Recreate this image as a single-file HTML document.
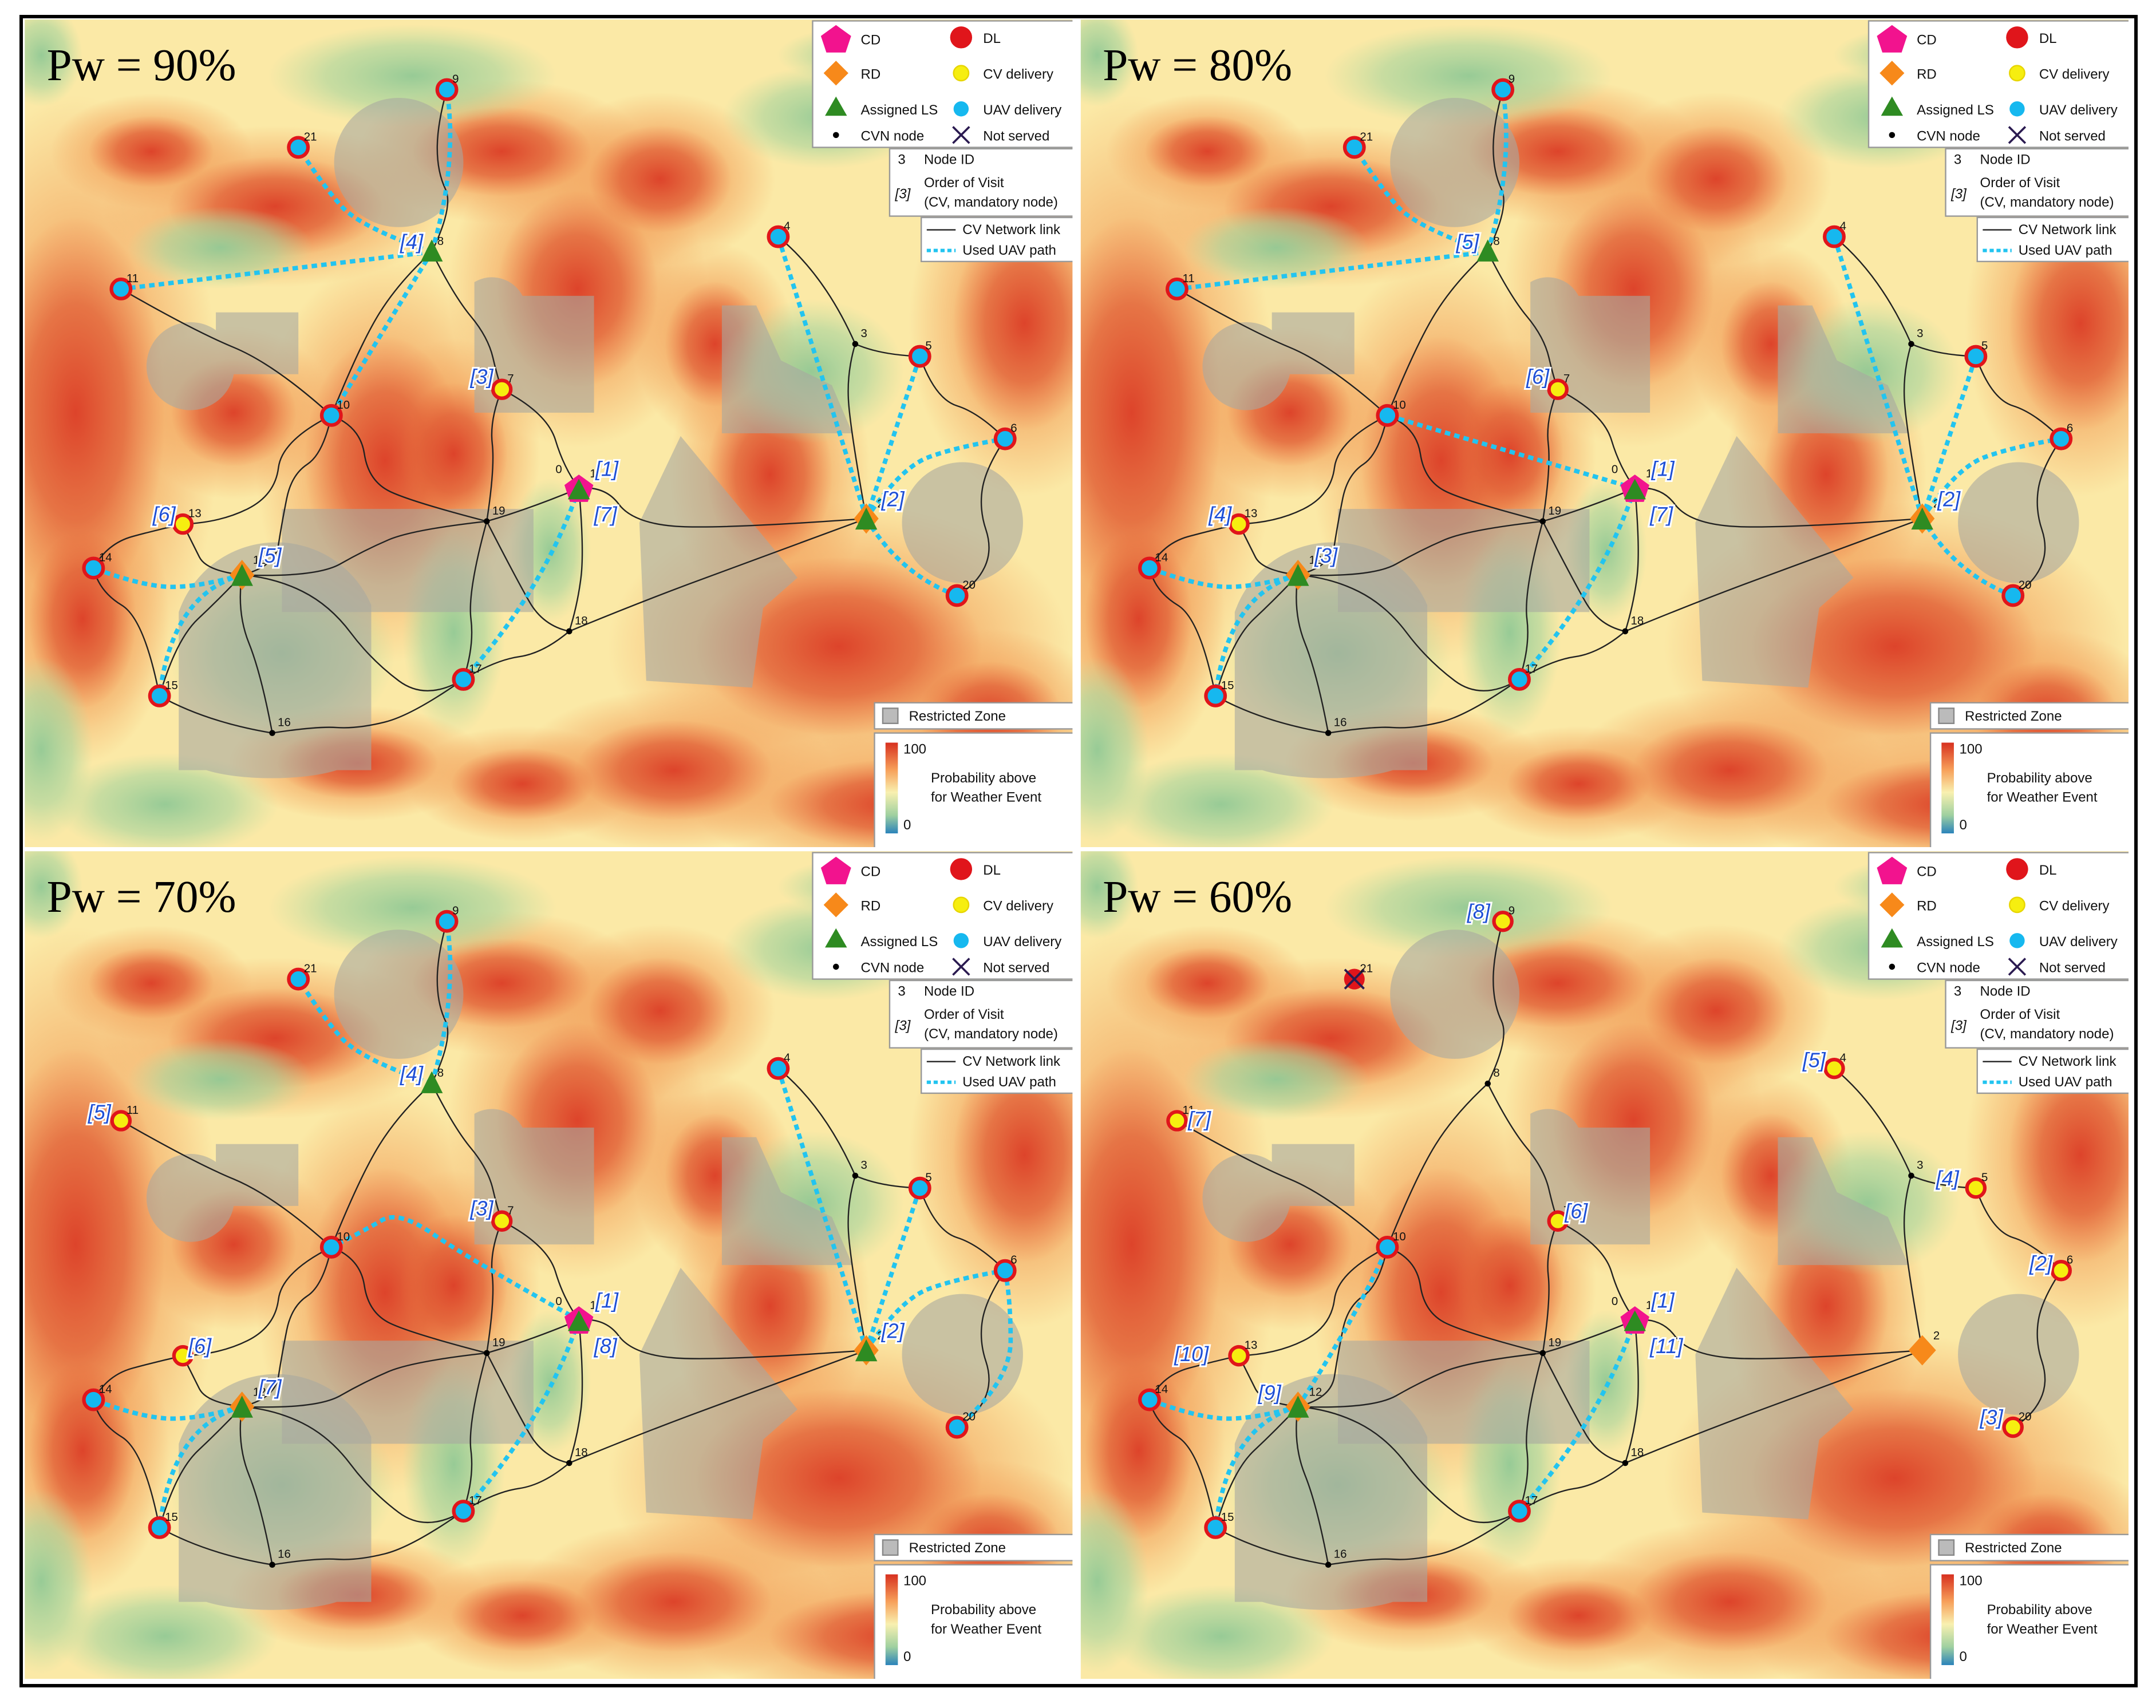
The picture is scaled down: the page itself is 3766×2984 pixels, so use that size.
<!DOCTYPE html>
<html><head><meta charset="utf-8"><style>
html,body{margin:0;padding:0;background:#fff;width:3766px;height:2984px;overflow:hidden;}
svg{display:block;position:absolute;left:0;top:0;}
#border{position:absolute;left:34px;top:26px;width:3700px;height:2922px;border:6px solid #000;box-sizing:border-box;pointer-events:none;}
.lt{font-family:"Liberation Sans",sans-serif;font-size:10px;fill:#111;}
.nid{font-family:"Liberation Sans",sans-serif;font-size:8.5px;fill:#111;}
.ord{font-family:"Liberation Sans",sans-serif;font-size:15px;font-style:italic;fill:#1d4fd6;stroke:#fff;stroke-width:2.5px;paint-order:stroke;}
.ttl{font-family:"Liberation Serif",serif;font-size:33px;fill:#000;}
</style></head><body>
<svg id="fig" xmlns="http://www.w3.org/2000/svg" width="3766" height="2984" viewBox="0 0 1568 1242">
<defs>
<radialGradient id="gHot"><stop offset="0" stop-color="#f09a58" stop-opacity="0.95"/><stop offset="0.6" stop-color="#f3a560" stop-opacity="0.6"/><stop offset="1" stop-color="#f3a560" stop-opacity="0"/></radialGradient>
<radialGradient id="gCore"><stop offset="0" stop-color="#dc3f28" stop-opacity="0.95"/><stop offset="0.55" stop-color="#e05a34" stop-opacity="0.7"/><stop offset="1" stop-color="#e86a3a" stop-opacity="0"/></radialGradient>
<radialGradient id="gCool"><stop offset="0" stop-color="#92c995" stop-opacity="0.95"/><stop offset="0.6" stop-color="#a6d49d" stop-opacity="0.6"/><stop offset="1" stop-color="#b8dca0" stop-opacity="0"/></radialGradient>
<linearGradient id="cbar" x1="0" y1="0" x2="0" y2="1">
<stop offset="0" stop-color="#d7301f"/><stop offset="0.3" stop-color="#f7a05a"/><stop offset="0.55" stop-color="#f8f0b0"/><stop offset="0.8" stop-color="#9fd0a0"/><stop offset="1" stop-color="#2b83ba"/></linearGradient>
<clipPath id="pclip"><rect x="17" y="13" width="764" height="604"/></clipPath>
</defs>
<rect x="0" y="0" width="1568" height="1242" fill="#fff"/>
<g id="panels"></g>
</svg>
<div id="border"></div>
<script>
const nodeIds=[1,2,3,4,5,6,7,8,9,10,11,12,13,14,15,16,17,18,19,20,21];
const nodeX=[421,630,622,566,669,731,365,314,325,241,88,176,133,68,116,198,337,414,354,696,217];
const nodeY=[355,377,250,172,259,319,283,183,65,302,210,418,381,413,506,533,494,459,379,433,107];
const links=[
[11,[[140,240],[200,265]],10],[10,[[262,250],[290,205]],8],[9,[[318,90],[318,125],[330,150]],8],
[8,[[330,215],[355,245],[362,275]],7],[7,[[398,300],[410,340]],1],[7,[[356,305],[360,340]],19],
[10,[[262,310],[268,350],[300,365]],19],[10,[[205,320],[200,360],[160,380]],13],[10,[[235,330],[212,345],[205,380],[200,412]],12],
[19,[[385,370]],1],[19,[[375,420],[395,455]],18],[19,[[340,430],[345,470]],17],[19,[[300,385],[265,400],[230,420]],12],
[1,[[440,353],[460,380],[520,385]],2],[2,[[540,410],[460,440]],18],[18,[[395,475],[360,480]],17],
[17,[[310,510],[270,480],[240,440],[200,420]],12],[17,[[300,520],[260,530],[230,528]],16],[16,[[150,525]],15],
[16,[[190,490],[172,445]],12],[15,[[128,465],[160,435]],12],[15,[[105,450],[72,430]],14],[14,[[78,395],[115,385]],13],
[13,[[140,395],[150,415]],12],[1,[[425,400],[420,440]],18],[2,[[618,310],[616,270]],3],[3,[[600,200]],4],
[3,[[640,258]],5],[5,[[680,290],[712,300]],6],[6,[[717,340],[712,370],[722,400],[710,425]],20]
];
const panelDX=[0,768,0,768];
const panelDY=[0,0,605,605];
const panelTitles=["Pw = 90%","Pw = 80%","Pw = 70%","Pw = 60%"];
const types=[
{1:"cd",2:"rdls",12:"rdls",8:"ls",7:"y",13:"y",3:"d",16:"d",18:"d",19:"d"},
{1:"cd",2:"rdls",12:"rdls",8:"ls",7:"y",13:"y",3:"d",16:"d",18:"d",19:"d"},
{1:"cd",2:"rdls",12:"rdls",8:"ls",7:"y",13:"y",11:"y",3:"d",16:"d",18:"d",19:"d"},
{1:"cd",2:"rd",12:"rdls",8:"d",7:"y",13:"y",11:"y",9:"y",4:"y",5:"y",6:"y",20:"y",21:"x",3:"d",16:"d",18:"d",19:"d"}
];
const uav=[
[[8,[[333,120]],9],[8,[[262,165],[235,135]],21],[8,[],11],[8,[],10],[2,[],4],[2,[],5],[2,[[655,340],[695,325]],6],[2,[[655,418]],20],[12,[[140,428],[100,425]],14],[12,[[125,432]],15],[1,[[395,430]],17]],
[[8,[[333,120]],9],[8,[[262,165],[235,135]],21],[8,[],11],[1,[],10],[2,[],4],[2,[],5],[2,[[655,340],[695,325]],6],[2,[[655,418]],20],[12,[[140,428],[100,425]],14],[12,[[125,432]],15],[1,[[395,430]],17]],
[[8,[[333,120]],9],[8,[[262,165],[235,135]],21],[1,[[340,310],[290,275],[265,290]],10],[2,[],4],[2,[],5],[2,[[655,340],[695,325]],6],[6,[[735,340],[735,400]],20],[12,[[140,428],[100,425]],14],[12,[[125,432]],15],[1,[[395,430]],17]],
[[12,[[220,350]],10],[12,[[140,428],[100,425]],14],[12,[[125,432]],15],[1,[[395,430]],17]]
];
const orders=[
[["[1]",433,346],["[7]",432,379],["[2]",641,368],["[3]",342,279],["[4]",291,181],["[5]",188,409],["[6]",111,379]],
[["[1]",433,346],["[7]",432,379],["[2]",641,368],["[6]",342,279],["[5]",291,181],["[3]",188,409],["[4]",111,379]],
[["[1]",433,346],["[8]",432,379],["[2]",641,368],["[3]",342,279],["[4]",291,181],["[7]",188,409],["[5]",64,209],["[6]",137,379]],
[["[1]",433,346],["[11]",432,379],["[3]",672,431],["[6]",370,281],["[8]",299,63],["[5]",543,171],["[4]",640,257],["[2]",708,319],["[7]",96,214],["[10]",86,385],["[9]",147,413]]
];
const NS="http://www.w3.org/2000/svg";
function mk(tag,attrs,parent){const e=document.createElementNS(NS,tag);for(const k in attrs)e.setAttribute(k,attrs[k]);if(parent)parent.appendChild(e);return e;}
function P(id){const i=nodeIds.indexOf(id);return [nodeX[i],nodeY[i]];}
function pathD(a,b,c){const pts=[P(a)].concat(b,[P(c)]);return "M"+pts.map(p=>p.join(",")).join(" L");}
function smooth(a,b,c){const pts=[P(a)].concat(b,[P(c)]);if(pts.length<3)return pathD(a,b,c);let d="M"+pts[0].join(",");for(let i=1;i<pts.length-1;i++){const m=[(pts[i][0]+pts[i+1][0])/2,(pts[i][1]+pts[i+1][1])/2];d+=" Q"+pts[i].join(",")+" "+(i==pts.length-2?pts[i+1].join(","):m.join(","));}return d;}
const root=document.getElementById('panels');
const hotBlobs=[[55,300,50,110],[60,450,30,50],[280,335,45,70],[200,150,60,28],[365,110,50,25],[420,210,45,55],[480,130,40,30],[560,345,35,50],[610,470,80,50],[490,560,55,28],[745,235,40,60],[650,585,70,25],[260,555,45,20],[170,300,35,30],[520,250,28,35],[330,330,30,40],[110,110,35,20],[720,520,40,30],[380,570,40,20]];
const coolBlobs=[[300,55,70,25],[330,460,25,50],[590,270,45,35],[120,585,55,25],[205,475,55,45],[600,85,50,25],[160,180,45,20],[730,120,40,30],[30,545,25,45],[640,40,50,15],[30,40,20,25],[400,400,20,35]];
function drawPanel(k){
  const g=mk('g',{transform:`translate(${panelDX[k]},${panelDY[k]})`},root);
  
  
  const cg=mk('g',{'clip-path':'url(#pclip)'},g);
  mk('rect',{x:17,y:13,width:764,height:604,fill:'#fbe9a6'},cg);
  const hb=mk('g',{},cg);
  
  
  hotBlobs.forEach(b=>{mk('ellipse',{cx:b[0],cy:b[1],rx:b[2]*2.1,ry:b[3]*2.1,fill:'url(#gHot)'},hb);});
  hotBlobs.forEach(b=>{mk('ellipse',{cx:b[0],cy:b[1],rx:b[2]*1.3,ry:b[3]*1.3,fill:'url(#gCore)'},hb);});
  coolBlobs.forEach(b=>{mk('ellipse',{cx:b[0],cy:b[1],rx:b[2]*1.5,ry:b[3]*1.5,fill:'url(#gCool)'},hb);});
  const rz=mk('g',{fill:'#a8a8a0','fill-opacity':0.6},cg);
  
  
  mk('circle',{cx:290,cy:118,r:47},rz);
  mk('path',{d:'M157,227 H217 V272 H170 A32,32 0 1 1 157,240 Z'},rz);
  mk('path',{d:'M345,205 A25,25 0 0 1 380,215 H432 V300 H345 Z'},rz);
  mk('path',{d:'M525,222 H550 L568,262 L605,280 L620,315 H525 Z'},rz);
  mk('path',{d:'M495,317 L580,420 L555,442 L547,500 L470,495 L465,380 Z'},rz);
  mk('path',{d:'M130,445 A75,75 0 0 1 270,440 V560 H245 A60,15 0 0 1 150,560 H130 Z'},rz);
  mk('rect',{x:205,y:370,width:183,height:75},rz);
  mk('circle',{cx:700,cy:380,r:44},rz);
  const lg=mk('g',{fill:'none',stroke:'#222','stroke-width':1},cg);
  
  
  links.forEach(l=>{if(k==3&&(l[0]==21||l[2]==21))return;mk('path',{d:smooth(l[0],l[1],l[2])},lg);});
  const ug=mk('g',{fill:'none',stroke:'#22c4f0','stroke-width':3.2,'stroke-dasharray':'4,3'},cg);
  
  
  uav[k].forEach(l=>{mk('path',{d:smooth(l[0],l[1],l[2])},ug);});
  const ng=mk('g',{},cg);
  nodeIds.forEach((id,i)=>{
    const x=nodeX[i],y=nodeY[i],t=types[k][id]||'u';
    const n=mk('g',{},ng);
    
    
    if(t=='u'){mk('circle',{cx:x,cy:y,r:7,fill:'#16b8ef',stroke:'#e0151b','stroke-width':2.6},n);}
    else if(t=='y'){mk('circle',{cx:x,cy:y,r:6.5,fill:'#f6ee10',stroke:'#e0151b','stroke-width':2.6},n);}
    else if(t=='d'){mk('circle',{cx:x,cy:y,r:2.2,fill:'#000'},n);}
    else if(t=='x'){mk('circle',{cx:x,cy:y,r:7.5,fill:'#e0151b'},n);mk('path',{d:`M${x-7},${y-7}L${x+7},${y+7}M${x+7},${y-7}L${x-7},${y+7}`,stroke:'#2a1a50','stroke-width':1.6},n);}
    else if(t=='cd'){const pts=[];for(let a=0;a<5;a++){const an=-Math.PI/2+a*2*Math.PI/5;pts.push((x+11*Math.cos(an)).toFixed(1)+','+(y+11*Math.sin(an)+1).toFixed(1));}mk('polygon',{points:pts.join(' '),fill:'#f2138e'},n);mk('polygon',{points:`${x},${y-7} ${x+8},${y+8} ${x-8},${y+8}`,fill:'#2e8b22'},n);}
    else if(t=='rdls'){mk('polygon',{points:`${x},${y-11} ${x+9},${y} ${x},${y+11} ${x-9},${y}`,fill:'#f7891a'},n);mk('polygon',{points:`${x},${y-8} ${x+8},${y+8} ${x-8},${y+8}`,fill:'#2e8b22'},n);}
    else if(t=='rd'){mk('polygon',{points:`${x},${y-11} ${x+10},${y} ${x},${y+11} ${x-10},${y}`,fill:'#f7891a'},n);}
    else if(t=='ls'){mk('polygon',{points:`${x},${y-9} ${x+8},${y+7} ${x-8},${y+7}`,fill:'#2e8b22'},n);}
    const off=(t=='rdls'||t=='cd'||t=='rd')?[8,-8]:[4,-5];
    const lb=mk('text',{x:x+off[0],y:y+off[1],class:'nid'},n);lb.textContent=id;
  });
  const z=mk('text',{x:404,y:344,class:'nid'},ng);z.textContent='0';
  orders[k].forEach(o=>{const e=mk('text',{x:o[1],y:o[2],class:'ord'},ng);e.textContent=o[0];
    
    });
  const tt=mk('text',{x:34,y:58,class:'ttl'},g);tt.textContent=panelTitles[k];
  
  
  const L=mk('g',{},g);
  
  
  mk('rect',{x:591,y:15,width:190,height:92,fill:'#fff',stroke:'#999','stroke-width':1},L);
  mk('polygon',{points:'608,18 619,26 615,38 601,38 597,26',fill:'#f2138e'},L);
  mk('polygon',{points:'608,44 617,53 608,62 599,53',fill:'#f7891a'},L);
  mk('polygon',{points:'608,70 616,84 600,84',fill:'#2e8b22'},L);
  mk('circle',{cx:608,cy:98,r:2.2,fill:'#000'},L);
  mk('circle',{cx:699,cy:27,r:8,fill:'#e0151b'},L);
  mk('circle',{cx:699,cy:53,r:5.5,fill:'#f6ee10',stroke:'#e7d500'},L);
  mk('circle',{cx:699,cy:79,r:5.5,fill:'#16b8ef'},L);
  mk('path',{d:'M693,92L705,104M705,92L693,104',stroke:'#2a1a50','stroke-width':1.5},L);
  [["CD",626,32],["RD",626,57],["Assigned LS",626,83],["CVN node",626,102],["DL",715,31],["CV delivery",715,57],["UAV delivery",715,83],["Not served",715,102]].forEach(s=>{const e=mk('text',{x:s[1],y:s[2],class:'lt'},L);e.textContent=s[0];});
  mk('rect',{x:647,y:108,width:134,height:49,fill:'#fff',stroke:'#999'},L);
  [["3",653,119],["Node ID",672,119],["Order of Visit",672,136],["(CV, mandatory node)",672,150]].forEach(s=>{const e=mk('text',{x:s[1],y:s[2],class:'lt'},L);e.textContent=s[0];});
  const o3=mk('text',{x:651,y:144,class:'lt','font-style':'italic',fill:'#1ca8e0'},L);o3.textContent='[3]';
  mk('rect',{x:670,y:158,width:111,height:32,fill:'#fff',stroke:'#999'},L);
  mk('line',{x1:674,y1:167,x2:695,y2:167,stroke:'#222'},L);
  mk('line',{x1:674,y1:182,x2:695,y2:182,stroke:'#22c4f0','stroke-width':2.5,'stroke-dasharray':'3,2'},L);
  [["CV Network link",700,170],["Used UAV path",700,185]].forEach(s=>{const e=mk('text',{x:s[1],y:s[2],class:'lt'},L);e.textContent=s[0];});
  mk('rect',{x:636,y:511,width:145,height:19,fill:'#fff',stroke:'#999'},L);
  mk('rect',{x:642,y:515,width:11,height:11,fill:'#bbb',stroke:'#888'},L);
  const rzt=mk('text',{x:661,y:524,class:'lt'},L);rzt.textContent='Restricted Zone';
  mk('rect',{x:636,y:533,width:145,height:84,fill:'#fff',stroke:'#999'},L);
  mk('rect',{x:644,y:540,width:9,height:66,fill:'url(#cbar)'},L);
  [["100",657,548],["0",657,603],["Probability above",677,569],["for Weather Event",677,583]].forEach(s=>{const e=mk('text',{x:s[1],y:s[2],class:'lt','font-size':s[0].length<4?'8px':'10px'},L);e.textContent=s[0];});
  mk('rect',{x:17,y:13,width:764,height:604,fill:'none',stroke:'#fff','stroke-width':2},g);
}
for(let k=0;k<4;k++)drawPanel(k);
</script>
</body></html>
